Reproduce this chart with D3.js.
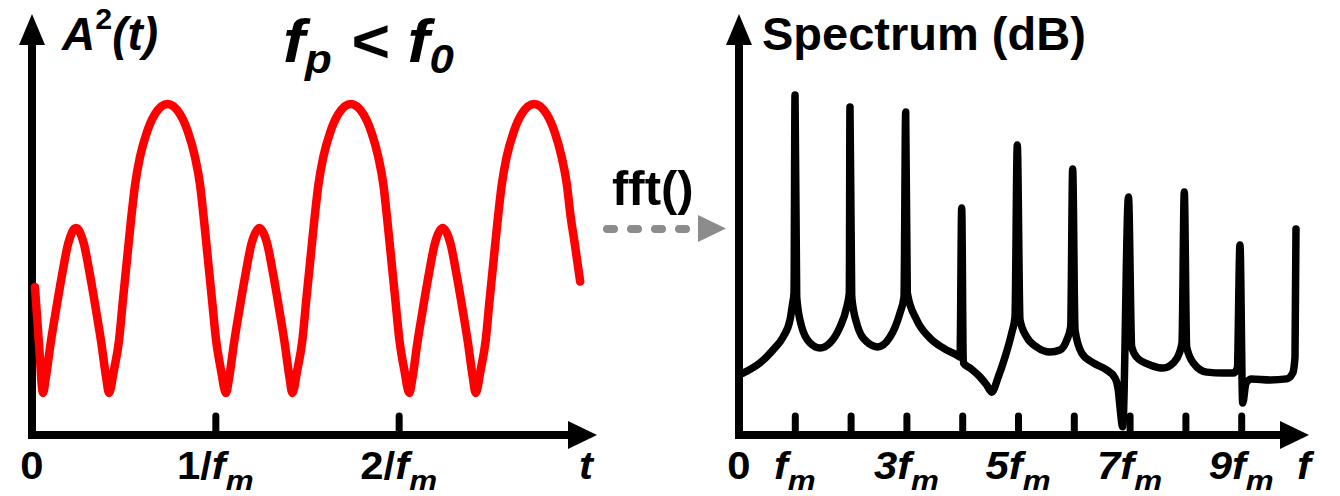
<!DOCTYPE html>
<html>
<head>
<meta charset="utf-8">
<script src="https://cdn.jsdelivr.net/npm/d3@7"></script>
<style>
  body { margin: 0; background: #fff; }
  svg { display: block; }
  text { font-family: "Liberation Sans", Arial, sans-serif; font-weight: bold; fill: #000; }
</style>
</head>
<body>
<div id="chart"></div>
<script>
// A^2(t), t in units of 1/fm
const timeT = [
  0.016, 0.038, 0.060, 0.076, 0.102, 0.131, 0.162, 0.198, 0.240, 0.282, 0.318, 0.349, 0.378, 0.404, 0.420,
  0.447, 0.475, 0.496, 0.518, 0.540, 0.562, 0.589, 0.627, 0.671, 0.739, 0.807, 0.851, 0.889, 0.917, 0.938,
  0.960, 0.982, 1.004, 1.031, 1.058,
  1.076, 1.102, 1.131, 1.162, 1.198, 1.240, 1.282, 1.318, 1.349, 1.378, 1.404, 1.420,
  1.447, 1.475, 1.496, 1.518, 1.540, 1.562, 1.589, 1.627, 1.671, 1.739, 1.807, 1.851, 1.889, 1.917, 1.938,
  1.960, 1.982, 2.004, 2.031, 2.058,
  2.076, 2.102, 2.131, 2.162, 2.198, 2.240, 2.282, 2.318, 2.349, 2.378, 2.404, 2.420,
  2.447, 2.475, 2.496, 2.518, 2.540, 2.562, 2.589, 2.627, 2.671, 2.739, 2.807, 2.851, 2.889, 2.917, 2.938,
  2.960, 2.990
];
const ampA2 = [
  0.382, 0.190, 0.024, 0.078, 0.193, 0.304, 0.416, 0.530, 0.581, 0.530, 0.416, 0.304, 0.193, 0.078, 0.024,
  0.101, 0.203, 0.338, 0.473, 0.608, 0.726, 0.821, 0.905, 0.966, 1.000, 0.966, 0.905, 0.821, 0.726, 0.608,
  0.473, 0.338, 0.203, 0.101, 0.024,
  0.078, 0.193, 0.304, 0.416, 0.530, 0.581, 0.530, 0.416, 0.304, 0.193, 0.078, 0.024,
  0.101, 0.203, 0.338, 0.473, 0.608, 0.726, 0.821, 0.905, 0.966, 1.000, 0.966, 0.905, 0.821, 0.726, 0.608,
  0.473, 0.338, 0.203, 0.101, 0.024,
  0.078, 0.193, 0.304, 0.416, 0.530, 0.581, 0.530, 0.416, 0.304, 0.193, 0.078, 0.024,
  0.101, 0.203, 0.338, 0.473, 0.608, 0.726, 0.821, 0.905, 0.966, 1.000, 0.966, 0.905, 0.821, 0.730, 0.620,
  0.530, 0.400
];

// spectrum, f in units of fm, level in relative dB
const freqF = [
  0.072, 0.376, 0.609, 0.789, 0.914, 0.962, 0.986, 1.004, 1.034, 1.124, 1.272, 1.452, 1.631, 1.810,
  1.930, 1.977, 1.989, 2.020, 2.109, 2.289, 2.486, 2.706, 2.885, 2.957, 2.987, 3.016, 3.185, 3.423,
  3.656, 3.901, 3.961, 3.991, 4.020, 4.140, 4.319, 4.439, 4.529, 4.647, 4.767, 4.887, 4.946, 4.987,
  5.036, 5.156, 5.335, 5.573, 5.753, 5.873, 5.944, 5.980, 6.022, 6.142, 6.349, 6.590, 6.738, 6.797,
  6.828, 6.876, 6.980, 7.038, 7.127, 7.366, 7.604, 7.783, 7.891, 7.939, 7.980, 8.023, 8.142, 8.382,
  8.679, 8.858, 8.930, 8.978, 9.027, 9.086, 9.188, 9.516, 9.815, 9.923, 9.964, 9.982
];
const levelDb = [
  18.2, 21.2, 25.0, 28.8, 33.8, 38.8, 41.8, 100.0, 40.6, 31.8, 27.1, 25.6, 27.1, 31.8,
  37.6, 41.8, 96.5, 40.6, 32.9, 27.4, 25.9, 28.8, 35.9, 40.6, 95.0, 41.8, 33.8, 28.5,
  25.6, 23.5, 22.9, 66.8, 21.2, 19.7, 17.1, 14.7, 12.6, 17.1, 22.9, 30.0, 34.7, 85.3,
  33.8, 28.8, 25.9, 24.4, 25.0, 27.9, 31.8, 78.2, 30.9, 24.1, 21.2, 19.1, 16.8, 13.2,
  8.2, 2.4, 70.0, 25.9, 22.9, 20.6, 19.7, 21.2, 24.1, 27.1, 71.5, 25.9, 21.2, 18.5,
  18.2, 18.2, 19.7, 55.9, 9.4, 15.3, 16.5, 16.2, 16.5, 18.2, 22.9, 60.6
];

const timeTicks = [1, 2];
const timeTickCoef = ["1/", "2/"];
const freqTicks = [1, 2, 3, 4, 5, 6, 7, 8, 9];
const freqLabelTicks = [1, 3, 5, 7, 9];
const freqLabelCoef = ["", "3", "5", "7", "9"];

const width = 1340, height = 496;
const axisY = 435;

const svg = d3.select("#chart").append("svg")
  .attr("width", width)
  .attr("height", height);

// scales
const xT = d3.scaleLinear().domain([0, 3]).range([32, 582]);
const yA = d3.scaleLinear().domain([0, 1]).range([400, 104]);
const xF = d3.scaleLinear().domain([0, 10]).range([739, 1297]);
const yDb = d3.scaleLinear().domain([0, 100]).range([axisY, 95]);

// text with sub/superscript parts; sx widens the lettering a bit where needed
function label(x, y, parts, size, anchor, subDy, sx, subScale) {
  const t = svg.append("text")
    .attr("transform", `translate(${x},${y}) scale(${sx || 1},1)`)
    .attr("text-anchor", anchor || "start")
    .attr("font-size", size);
  let shift = 0;
  parts.forEach(p => {
    const target = p.sub ? subDy : p.sup ? -size * 0.45 : 0;
    t.append("tspan")
      .attr("dy", target - shift)
      .attr("font-size", p.sub || p.sup ? size * (subScale || 0.66) : size)
      .attr("font-style", p.it ? "italic" : "normal")
      .text(p.s);
    shift = target;
  });
  return t;
}

function axes(x0, xEnd) {
  svg.append("path")
    .attr("d", `M${x0},44 V${axisY} H${xEnd - 26}`)
    .attr("fill", "none")
    .attr("stroke", "#000")
    .attr("stroke-width", 8);
  svg.append("path")
    .attr("d", `M${x0},14 L${x0 - 13},45 L${x0 + 13},45 Z`)
    .attr("fill", "#000");
  svg.append("path")
    .attr("d", `M${xEnd},${axisY} L${xEnd - 29},${axisY - 14} L${xEnd - 29},${axisY + 14} Z`)
    .attr("fill", "#000");
}

function ticks(scale, values) {
  const g = svg.append("g")
    .attr("transform", `translate(0,${axisY})`)
    .call(d3.axisBottom(scale).tickValues(values).tickSize(-19).tickFormat(""));
  g.select(".domain").remove();
  g.selectAll(".tick line")
    .attr("stroke", "#000")
    .attr("stroke-width", 7)
    .attr("stroke-linecap", "round");
}

// ---- left panel: A^2(t)
ticks(xT, timeTicks);
axes(xT(0), 597);

const ptsA = timeT.map((t, i) => [t, ampA2[i]]);
svg.append("path")
  .datum(ptsA)
  .attr("fill", "none")
  .attr("stroke", "#ff0000")
  .attr("stroke-width", 8.5)
  .attr("stroke-linecap", "round")
  .attr("stroke-linejoin", "round")
  .attr("d", d3.line().x(d => xT(d[0])).y(d => yA(d[1])).curve(d3.curveMonotoneX));

label(62, 50, [{ s: "A", it: 1 }, { s: "2", sup: 1 }, { s: "(t)", it: 1 }], 46, "start", 0);
label(283, 62, [{ s: "f", it: 1 }, { s: "p", it: 1, sub: 1 }, { s: " < ", it: 1 }, { s: "f", it: 1 }, { s: "0", it: 1, sub: 1 }], 62, "start", 11, 1.07);

label(xT(0), 479, [{ s: "0" }], 38, "middle", 0, 1.1);
timeTicks.forEach((v, i) => {
  label(xT(v), 479, [{ s: timeTickCoef[i] }, { s: "f", it: 1 }, { s: "m", it: 1, sub: 1 }], 38, "middle", 11, 1.1, 0.75);
});
label(586, 479, [{ s: "t", it: 1 }], 38, "middle", 0, 1.1);

// ---- fft() arrow
label(612, 205, [{ s: "fft()" }], 49, "start", 0);
svg.append("line")
  .attr("x1", 607).attr("x2", 687)
  .attr("y1", 229).attr("y2", 229)
  .attr("stroke", "#8c8c8c")
  .attr("stroke-width", 8)
  .attr("stroke-linecap", "round")
  .attr("stroke-dasharray", "7,17");
svg.append("path")
  .attr("d", "M698,215 L726,228.5 L698,242 Z")
  .attr("fill", "#8c8c8c");

// ---- right panel: spectrum
ticks(xF, freqTicks);
axes(xF(0), 1309);

const ptsS = freqF.map((f, i) => [f, levelDb[i]]);
svg.append("path")
  .datum(ptsS)
  .attr("fill", "none")
  .attr("stroke", "#000")
  .attr("stroke-width", 7.5)
  .attr("stroke-linecap", "round")
  .attr("stroke-linejoin", "round")
  .attr("d", d3.line().x(d => xF(d[0])).y(d => yDb(d[1])).curve(d3.curveMonotoneX));

label(762, 50, [{ s: "Spectrum (dB)" }], 47, "start", 0);

label(xF(0), 479, [{ s: "0" }], 38, "middle", 0, 1.1);
freqLabelTicks.forEach((v, i) => {
  label(xF(v), 479, [{ s: freqLabelCoef[i], it: 1 }, { s: "f", it: 1 }, { s: "m", it: 1, sub: 1 }], 38, "middle", 11, 1.1, 0.75);
});
label(1304, 479, [{ s: "f", it: 1 }], 38, "middle", 0, 1.1);
</script>
</body>
</html>
